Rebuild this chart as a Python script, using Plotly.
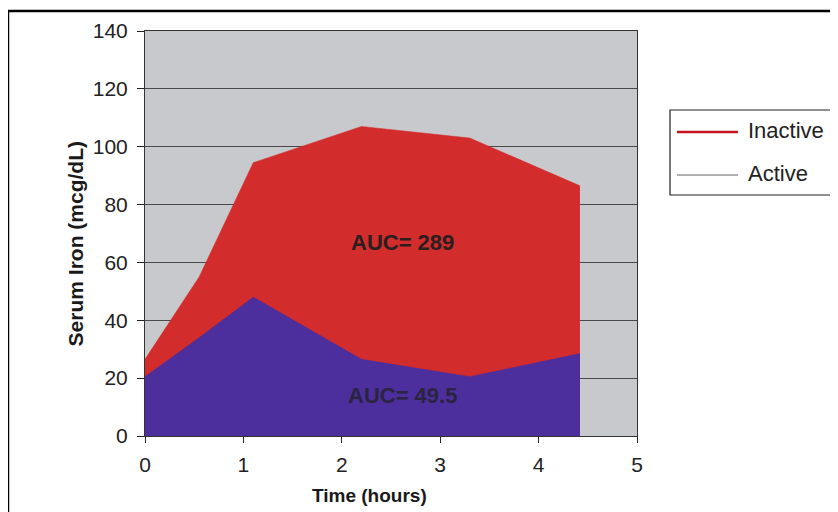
import plotly.graph_objects as go

time_h = [0, 0.55, 1.1, 2.2, 3.3, 4.42]
inactive = [26.5, 55, 94.5, 107, 103, 86.5]
active = [20.5, 34, 48, 26.5, 20.5, 28.5]
series_names = ["Inactive", "Active"]
auc_labels = ["AUC= 289", "AUC= 49.5"]
auc_pos_x = [2.62, 2.62]
auc_pos_y = [67, 14]
x_ticks = [0, 1, 2, 3, 4, 5]
y_ticks = [0, 20, 40, 60, 80, 100, 120, 140]

RED = "rgb(210,44,44)"
BLUE = "rgb(76,46,156)"
FONT = "Liberation Sans, Arial"

fig = go.Figure()
fig.add_trace(go.Scatter(x=time_h, y=inactive, mode="lines", fill="tozeroy",
                         fillcolor=RED, line=dict(color=RED, width=0.5),
                         showlegend=False, hoverinfo="x+y", name=series_names[0]))
fig.add_trace(go.Scatter(x=time_h, y=active, mode="lines", fill="tozeroy",
                         fillcolor=BLUE, line=dict(color=BLUE, width=0.5),
                         showlegend=False, hoverinfo="x+y", name=series_names[1]))

for txt, xx, yy, col in zip(auc_labels, auc_pos_x, auc_pos_y, ["#2a1e1e", "#2a2440"]):
    fig.add_annotation(x=xx, y=yy, text=f"<b>{txt}</b>", showarrow=False,
                       font=dict(family=FONT, size=22, color=col))

# axis titles
fig.add_annotation(xref="paper", yref="paper", x=0.457, y=-0.146, yanchor="middle",
                   text="<b>Time (hours)</b>", showarrow=False,
                   font=dict(family=FONT, size=19, color="#1a1a1a"))
fig.add_annotation(xref="paper", yref="paper", x=-0.169, y=0.474, textangle=-90,
                   text="<b>Serum Iron (mcg/dL)</b>", showarrow=False,
                   font=dict(family=FONT, size=21, color="#1a1a1a"))

# outer frame
fig.add_shape(type="rect", xref="paper", yref="paper",
              x0=-0.2785, x1=1.43, y0=-0.22, y1=1.0494,
              line=dict(color="black", width=2.5), layer="below")

# legend (line samples as in the reference)
fig.add_shape(type="rect", xref="paper", yref="paper",
              x0=1.0671, x1=1.3984, y0=0.5951, y1=0.8049,
              line=dict(color="#222", width=1.2), fillcolor="white")
legend_colors = ["rgb(200,20,30)", "#666666"]
legend_widths = [2.5, 1]
legend_y = [0.7506, 0.6444]
for name, col, w, ly in zip(series_names, legend_colors, legend_widths, legend_y):
    fig.add_shape(type="line", xref="paper", yref="paper",
                  x0=1.0813, x1=1.2053, y0=ly, y1=ly, line=dict(color=col, width=w))
    fig.add_annotation(xref="paper", yref="paper", x=1.2215, y=ly + 0.003,
                       xanchor="left", yanchor="middle", text=name, showarrow=False,
                       font=dict(family=FONT, size=22, color="#222"))

fig.update_xaxes(range=[0, 5], tickvals=x_ticks, ticks="outside", ticklen=6,
                 tickcolor="#222", showgrid=False, zeroline=False,
                 showline=True, linecolor="#333", linewidth=1, mirror=True,
                 ticklabelstandoff=4,
                 tickfont=dict(family=FONT, size=21, color="#222"))
fig.update_yaxes(range=[0, 140], tickvals=y_ticks, ticks="outside", ticklen=7,
                 tickcolor="#222", showgrid=True, gridcolor="#4a4a4a", gridwidth=1,
                 zeroline=False, showline=True, linecolor="#333", linewidth=1, mirror=True,
                 ticklabelstandoff=5,
                 tickfont=dict(family=FONT, size=21, color="#222"))

fig.update_layout(
    width=830, height=504,
    margin=dict(l=137, r=201, t=23, b=76),
    paper_bgcolor="white", plot_bgcolor="rgb(200,201,204)",
    showlegend=False,
)

fig.write_html("out.html")
